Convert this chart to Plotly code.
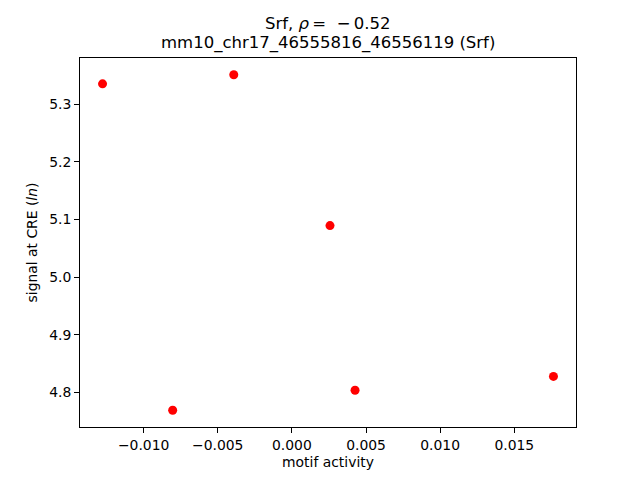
import plotly.graph_objects as go

# data
motif_activity = [-0.01277, -0.00392, 0.00257, -0.00804, 0.00426, 0.01764]
signal = [5.335, 5.3507, 5.0894, 4.7694, 4.804, 4.828]

x_ticks = [-0.010, -0.005, 0.000, 0.005, 0.010, 0.015]
x_ticktext = ["−0.010", "−0.005", "0.000", "0.005", "0.010", "0.015"]
y_ticks = [4.8, 4.9, 5.0, 5.1, 5.2, 5.3]
y_ticktext = ["4.8", "4.9", "5.0", "5.1", "5.2", "5.3"]

title_line1 = "Srf, <i>ρ</i>\u2009=  −\u20090.52"
title_line2 = "mm10_chr17_46555816_46556119 (Srf)"


def padded(vals, frac=0.05):
    lo, hi = min(vals), max(vals)
    span = hi - lo
    return [lo - frac * span, hi + frac * span]


font = "DejaVu Sans"

fig = go.Figure()
fig.add_trace(go.Scatter(
    x=motif_activity, y=signal, mode="markers",
    marker=dict(color="#ff0000", size=9, line=dict(width=0)),
    showlegend=False,
))

axis_common = dict(
    showline=True, linecolor="black", linewidth=1, mirror=True,
    ticks="outside", ticklen=5, tickwidth=1, tickcolor="black",
    showgrid=False, zeroline=False,
    tickfont=dict(family=font, size=13.9, color="black"),
)

title_font = dict(family=font, size=16.5, color="black")

fig.update_layout(
    width=640, height=480,
    margin=dict(l=80, r=64, t=58, b=53),
    plot_bgcolor="white", paper_bgcolor="white",
    font=dict(family=font, color="black"),
    annotations=[
        dict(text=title_line1, xref="paper", yref="paper", x=0.5, y=1,
             xanchor="center", yanchor="bottom", yshift=23,
             showarrow=False, font=title_font),
        dict(text=title_line2, xref="paper", yref="paper", x=0.5, y=1,
             xanchor="center", yanchor="bottom", yshift=3,
             showarrow=False, font=title_font),
    ],
    xaxis=dict(
        range=padded(motif_activity),
        tickvals=x_ticks, ticktext=x_ticktext,
        title=dict(text="motif activity", standoff=5,
                   font=dict(family=font, size=13.9, color="black")),
        automargin=False,
        **axis_common,
    ),
    yaxis=dict(
        range=padded(signal),
        tickvals=y_ticks, ticktext=y_ticktext,
        title=dict(text="signal at CRE (<i>ln</i>)", standoff=8,
                   font=dict(family=font, size=13.9, color="black")),
        automargin=False,
        **axis_common,
    ),
)

fig.write_html("out.html",
               config={"displayModeBar": False},
               post_script="document.body.style.margin='0';")
